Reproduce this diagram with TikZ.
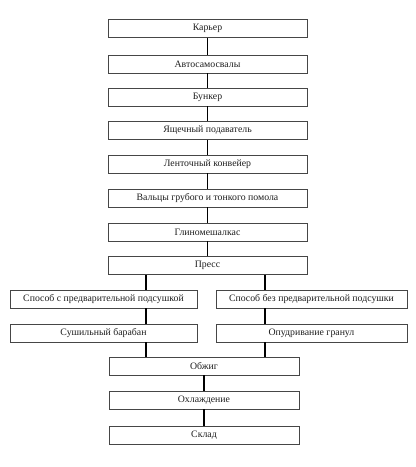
\documentclass[tikz,border=0pt]{standalone}
\usepackage{fontspec}
\setmainfont{Liberation Serif}
\usetikzlibrary{positioning,backgrounds}
\definecolor{ink}{RGB}{30,30,30}
\definecolor{frame}{RGB}{70,70,70}
\tikzset{
    stage/.style={
        rectangle,
        draw=frame,
        line width=0.9pt,
        fill=white,
        text=ink,
        minimum height=18pt,
        inner sep=1pt,
        align=center,
        font=\normalfont\fontsize{9.8}{11}\selectfont
    },
    mainstage/.style={stage, minimum width=199pt},
    lowstage/.style={stage, minimum width=190pt},
    branchstage/.style={stage, minimum width=189pt},
    link/.style={
        -,
        draw=black,
        line width=1.7pt
    }
}

\begin{document}
\begin{tikzpicture}[x=1pt, y=-1pt]
\useasboundingbox[fill=white] (0,0) rectangle (416,467);

% Main column
\foreach \name/\y/\lbl in {
    quarry/28.5/Карьер,
    trucks/64/Автосамосвалы,
    bunker/97/Бункер,
    feeder/130.5/Ящечный подаватель,
    belt/164/Ленточный конвейер,
    rolls/198/Вальцы грубого и тонкого помола,
    mixer/232/Глиномешалкас,
    press/265.5/Пресс} {
    \node[mainstage] (\name) at (207.5, \y) {\lbl};
}

% Two ways
\node[branchstage, minimum width=187pt] (predry) at (103.5, 299) {Способ с предварительной подсушкой};
\node[branchstage, minimum width=191pt] (nodry) at (311.5, 299) {Способ без предварительной подсушки};
\node[branchstage, minimum width=187pt] (drum) at (103.5, 333) {Сушильный барабан};
\node[branchstage, minimum width=191pt] (dust) at (311.5, 333) {Опудривание гранул};

% Lower column
\node[lowstage] (firing) at (204, 366) {Обжиг};
\node[lowstage] (cooling) at (204, 400) {Охлаждение};
\node[lowstage] (store) at (204, 435) {Склад};

% Connectors of the main column
\foreach \a/\b in {quarry/trucks, trucks/bunker, bunker/feeder, feeder/belt,
                   belt/rolls, rolls/mixer, mixer/press} {
    \draw[link] (\a.south) -- (\b.north);
}

% Branch lines
\coordinate (lx) at (146, 0);
\coordinate (rx) at (265, 0);
\draw[link] (press.south -| lx) -- (predry.north -| lx);
\draw[link] (press.south -| rx) -- (nodry.north -| rx);
\draw[link] (predry.south -| lx) -- (drum.north -| lx);
\draw[link] (nodry.south -| rx) -- (dust.north -| rx);
\draw[link] (drum.south -| lx) -- (firing.north -| lx);
\draw[link] (dust.south -| rx) -- (firing.north -| rx);

\draw[link] (firing.south) -- (cooling.north);
\draw[link] (cooling.south) -- (store.north);
\end{tikzpicture}
\end{document}
